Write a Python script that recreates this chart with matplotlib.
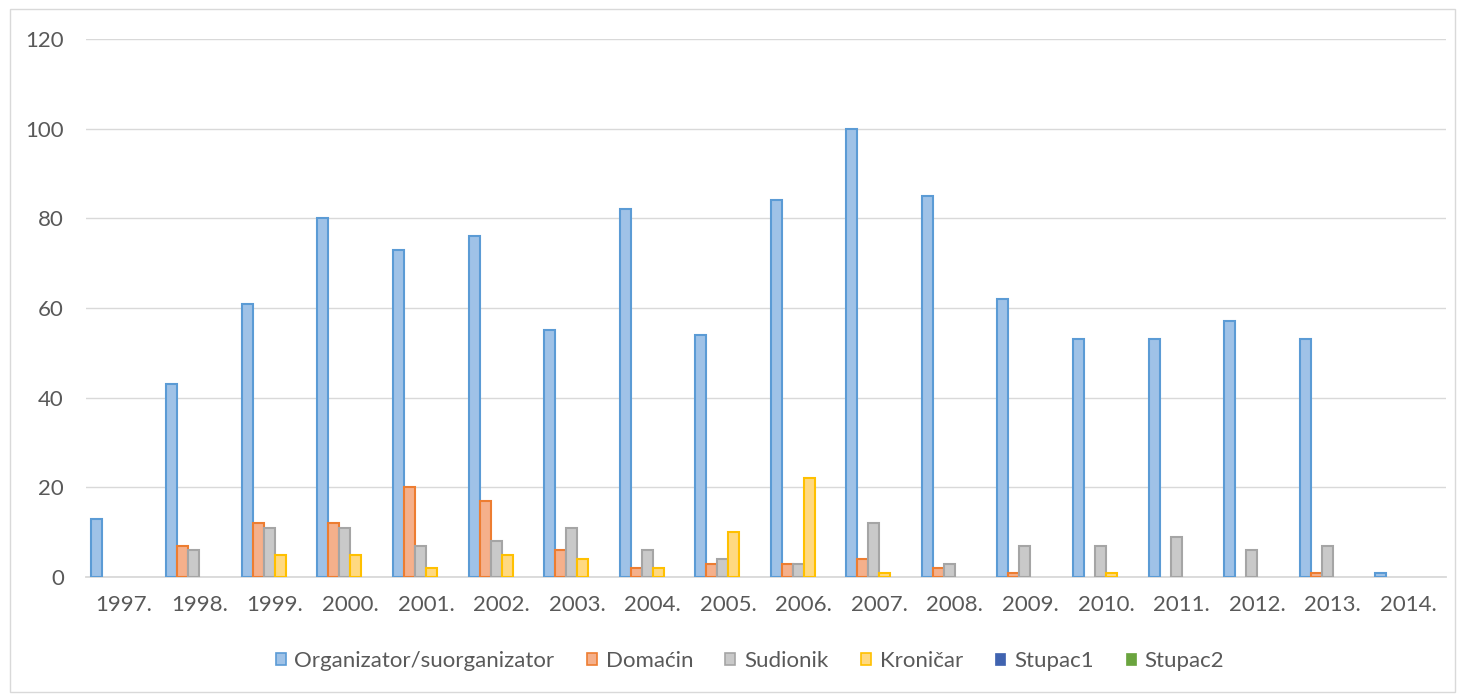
import matplotlib
matplotlib.use("Agg")
import matplotlib.pyplot as plt
from matplotlib.patches import Patch, Rectangle
import numpy as np

plt.rcParams['font.family'] = ['Lato', 'DejaVu Sans']

years = ["1997.", "1998.", "1999.", "2000.", "2001.", "2002.", "2003.", "2004.", "2005.",
         "2006.", "2007.", "2008.", "2009.", "2010.", "2011.", "2012.", "2013.", "2014."]
organizator = [13, 43, 61, 80, 73, 76, 55, 82, 54, 84, 100, 85, 62, 53, 53, 57, 53, 1]
domacin = [0, 7, 12, 12, 20, 17, 6, 2, 3, 3, 4, 2, 1, 0, 0, 0, 1, 0]
sudionik = [0, 6, 11, 11, 7, 8, 11, 6, 4, 3, 12, 3, 7, 7, 9, 6, 7, 0]
kronicar = [0, 0, 5, 5, 2, 5, 4, 2, 10, 22, 1, 0, 0, 1, 0, 0, 0, 0]
stupac1 = [0] * 18
stupac2 = [0] * 18

series_names = ["Organizator/suorganizator", "Domaćin", "Sudionik", "Kroničar", "Stupac1", "Stupac2"]
series_vals = [organizator, domacin, sudionik, kronicar, stupac1, stupac2]
fills = ["#9FC2E7", "#F5B08B", "#C9C9C9", "#FFD981", "#4063B0", "#6AA43E"]
edges = ["#5B9BD5", "#ED7D31", "#A5A5A5", "#FFC000", "#4472C4", "#70AD47"]

W, H = 1462, 696
fig = plt.figure(figsize=(W / 100, H / 100), dpi=100)
ax = fig.add_axes([86 / W, 1 - 577 / H, (1446 - 86) / W, (577 - 39) / H])

n = len(series_vals)
bw = 11.0 / 75.6
gap = 1 - n * bw
x = np.arange(len(years))
for k, (vals, fc, ec) in enumerate(zip(series_vals, fills, edges)):
    vals = np.asarray(vals, dtype=float)
    pos = x - 0.5 + gap / 2 + bw * (k + 0.5)
    m = vals > 0
    if m.any():
        ax.bar(pos[m], vals[m], width=bw, color=fc, edgecolor=ec, linewidth=1.5, zorder=3)

text_color = "#595959"
ax.set_xlim(-0.5, len(years) - 0.5)
ax.set_ylim(0, 120)
ax.set_yticks(np.arange(0, 121, 20))
ax.set_xticks(x)
ax.set_xticklabels(years)
ax.tick_params(axis='both', length=0, labelsize=16, colors=text_color)
ax.tick_params(axis='y', pad=16)
ax.tick_params(axis='x', pad=13)
ax.grid(axis='y', color="#D9D9D9", linewidth=1.0, zorder=0)
ax.set_axisbelow(True)
for s in ['top', 'right', 'left']:
    ax.spines[s].set_visible(False)
ax.spines['bottom'].set_color("#D9D9D9")
ax.spines['bottom'].set_linewidth(1.3)
ax.spines['bottom'].set_zorder(2)

handles = [Patch(facecolor=fc, edgecolor=ec, linewidth=1.2) for fc, ec in zip(fills, edges)]
handles[4] = Patch(facecolor=fills[4], edgecolor=fills[4], linewidth=0.5)
handles[5] = Patch(facecolor=fills[5], edgecolor=fills[5], linewidth=0.5)
fig.legend(handles, series_names, loc='center', bbox_to_anchor=(750 / W, 1 - 661 / H),
           ncol=6, frameon=False, fontsize=16, labelcolor=text_color,
           handlelength=0.45, handleheight=0.45, handletextpad=0.4, columnspacing=1.45)

fig.patches.append(Rectangle((10 / W, 1 - 692 / H), 1445 / W, 683 / H, transform=fig.transFigure,
                             fill=False, edgecolor="#D9D9D9", linewidth=1.0))

fig.savefig("out.png", dpi=100)
